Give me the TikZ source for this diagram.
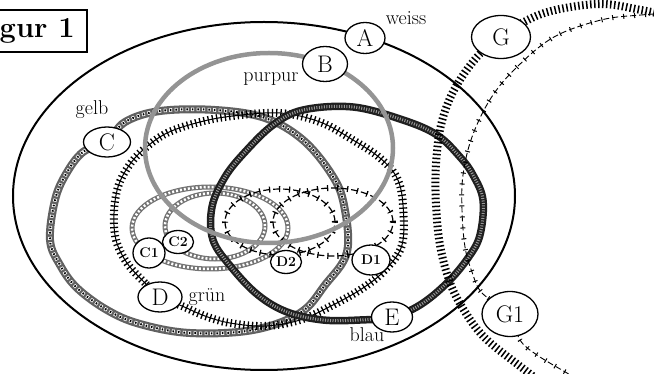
\documentclass[tikz,border=0pt]{standalone}
\usetikzlibrary{shapes.geometric}

\tikzset{
  knoten/.style={draw, ellipse, fill=white, line width=1.3pt, inner sep=0pt,
    font=\fontsize{24}{26}\selectfont},
  kleinknoten/.style={knoten, font=\fontsize{14}{16}\selectfont\bfseries},
  etikett/.style={anchor=base, font=\fontsize{20}{22}\selectfont},
  titelbox/.style={draw, fill=white, line width=1.6pt, minimum width=100pt,
    minimum height=42pt, font=\fontsize{29}{31}\selectfont\bfseries},
  weissrand/.style={line width=2pt},
  purpurband/.style={line width=4.5pt, black!42},
  gelbband/.style={line width=8pt, black!62,
    postaction={draw, line width=3.5pt, white, dash pattern=on 3pt off 2.5pt},
    postaction={draw, line width=2pt, black, dash pattern=on 1.5pt off 4pt, dash phase=4.75pt}},
  gruenband/.style={line width=1pt,
    postaction={draw, line width=8pt, dash pattern=on 1.3pt off 3pt}},
  cring/.style={line width=5pt, black!55,
    postaction={draw, line width=2.5pt, white, dash pattern=on 2pt off 2pt}},
  dring/.style={line width=1.2pt, dash pattern=on 7pt off 3pt,
    postaction={draw, line width=6pt, solid, dash pattern=on 1.2pt off 8.8pt}},
  blauband/.style={line width=7.5pt, black!88,
    postaction={draw, line width=3pt, black!40, dash pattern=on 1pt off 1.5pt}},
  gband/.style={line width=8pt, dash pattern=on 1.5pt off 2.5pt},
  glinie/.style={line width=0.9pt, dash pattern=on 6pt off 3pt,
    postaction={draw, line width=5pt, solid, dash pattern=on 1pt off 10pt}},
}

\begin{document}
\begin{tikzpicture}[x=1pt,y=-1pt]
\useasboundingbox (0,0) rectangle (654,374);
\clip (0,0) rectangle (654,374);

% weiss
\draw[weissrand] (264,196) ellipse [x radius=251pt, y radius=174pt];

% gelb
\draw[gelbband] plot[smooth cycle, tension=0.6] coordinates {
  (107,142) (83,152) (66,174) (55,200) (50,240) (60,265) (77,288) (107,310)
  (140,324) (190,333) (253,330) (300,313) (325,285) (347,252) (344,205)
  (332,175) (303,140) (265,118) (215,110) (160,111) (125,122)};

% gruen
\draw[gruenband] plot[smooth cycle, tension=0.6] coordinates {
  (160,297) (145,283) (127,263) (116,240) (114,213) (118,187) (128,167)
  (143,150) (167,133) (200,122) (233,116) (280,113) (320,122) (353,140)
  (380,158) (397,178) (403,205) (402,245) (385,270) (363,288) (333,305)
  (300,320) (265,326) (230,323) (205,316) (182,306)};

% C1, C2
\draw[cring] (210,228) ellipse [x radius=78pt, y radius=41pt];
\draw[cring] (215,226) ellipse [x radius=50pt, y radius=33pt];

% D1, D2
\draw[dring] (280,222) ellipse [x radius=55pt, y radius=33pt];
\draw[dring] (333,222) ellipse [x radius=60pt, y radius=34pt];

% blau
\draw[blauband] plot[smooth cycle, tension=0.6] coordinates {
  (392,317) (420,305) (447,283) (468,258) (480,235) (483,200) (473,175)
  (460,157) (437,135) (403,120) (353,107) (303,110) (273,125) (245,152)
  (225,177) (212,207) (213,240) (232,268) (258,295) (287,312) (323,320)
  (360,320)};

% purpur
\draw[purpurband] (269,148) ellipse [x radius=124pt, y radius=95pt];

% G und G1
\draw[gband] plot[smooth, tension=0.6] coordinates {
  (690,20) (641,10) (600,4) (551,11) (520,24) (501,37) (477,57) (454,90)
  (441,125) (436,165) (436,205) (440,245) (449,280) (462,307) (484,337)
  (521,367) (545,385)};
\draw[glinie] plot[smooth, tension=0.6] coordinates {
  (690,12) (641,15) (601,20) (554,37) (517,67) (491,98) (472,137) (463,175)
  (462,210) (465,247) (472,272) (482,293) (510,314) (520,340) (537,355)
  (567,373) (600,392)};

% Knoten
\node[knoten, minimum width=40pt, minimum height=31pt] (A) at (365,38) {A};
\node[knoten, minimum width=45pt, minimum height=35pt] (B) at (325,64) {B};
\node[knoten, minimum width=47pt, minimum height=30pt] (C) at (107,142) {C};
\node[knoten, minimum width=44pt, minimum height=30pt] (D) at (160,297) {D};
\node[knoten, minimum width=41pt, minimum height=30pt] (E) at (392,317) {E};
\node[knoten, minimum width=59pt, minimum height=43pt] (G) at (501,37) {G};
\node[knoten, minimum width=56pt, minimum height=45pt] (G1) at (510,314) {G1};
\node[kleinknoten, minimum width=32pt, minimum height=30pt] (C1) at (149,253) {C1};
\node[kleinknoten, minimum width=31pt, minimum height=23pt] (C2) at (178,242) {C2};
\node[kleinknoten, minimum width=31pt, minimum height=23pt] (D2) at (286,262) {D2};
\node[kleinknoten, minimum width=38pt, minimum height=30pt] (D1) at (371,260) {D1};

% Farben
\node[etikett] (weiss) at (406,25) {weiss};
\node[etikett] (purpur) at (271,82) {purpur};
\node[etikett] (gelb) at (92,115) {gelb};
\node[etikett] (gruen) at (207,302) {grün};
\node[etikett] (blau) at (367,342) {blau};

\node[titelbox, anchor=east] (titel) at (88,31) {gur 1};
\end{tikzpicture}
\end{document}
